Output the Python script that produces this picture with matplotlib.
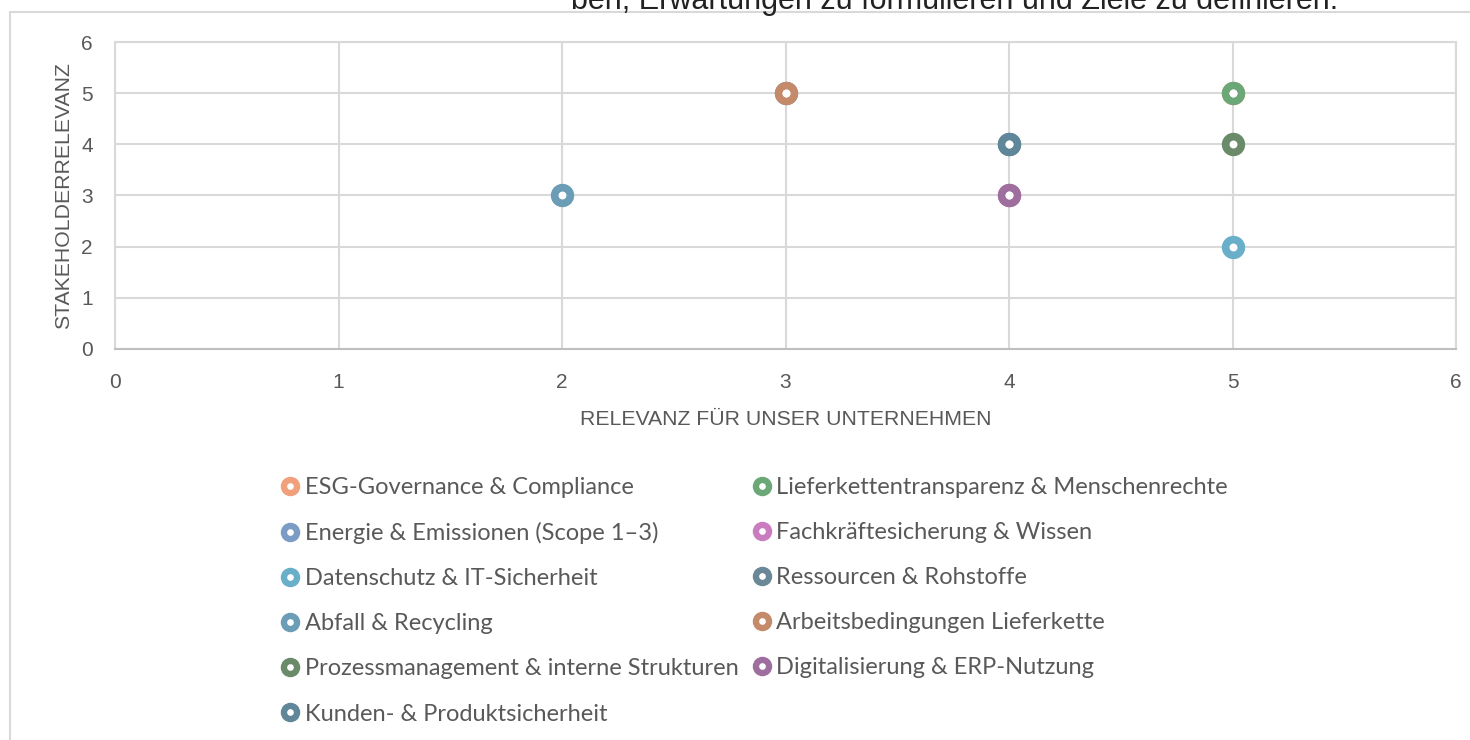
import matplotlib
matplotlib.use("Agg")
import matplotlib.pyplot as plt
from matplotlib.lines import Line2D
from matplotlib.legend_handler import HandlerTuple
from matplotlib.patches import Rectangle

# Themen (Reihenfolge wie in der Excel-Legende, zeilenweise)
themen = [
    "ESG-Governance & Compliance",
    "Lieferkettentransparenz & Menschenrechte",
    "Energie & Emissionen (Scope 1–3)",
    "Fachkräftesicherung & Wissen",
    "Datenschutz & IT-Sicherheit",
    "Ressourcen & Rohstoffe",
    "Abfall & Recycling",
    "Arbeitsbedingungen Lieferkette",
    "Prozessmanagement & interne Strukturen",
    "Digitalisierung & ERP-Nutzung",
    "Kunden- & Produktsicherheit",
]
relevanz_unternehmen = [5, 5, 3, 4, 5, 4, 2, 3, 5, 4, 4]
stakeholder_relevanz = [5, 5, 5, 3, 2, 4, 3, 5, 4, 3, 4]
farben = ["#F0A07A", "#6CA877", "#7B9CC4", "#C97DC0", "#6AAFCA", "#6A8898",
          "#6C9DB6", "#C48A6A", "#6A8A6A", "#9E6F9E", "#5F8799"]

GRID = "#D9D9D9"
TXT = "#595959"

fig = plt.figure(figsize=(14.7, 7.4), dpi=100)

# Rahmen des Diagrammbereichs + abgeschnittener Text darüber
fig.patches.append(Rectangle((10 / 1470, -0.1), 1.2, 1 - 12 / 740 + 0.1,
                             transform=fig.transFigure, fill=False,
                             edgecolor=GRID, linewidth=1.5))
fig.text(955 / 1470, 1 - 9 / 740, "ben, Erwartungen zu formulieren und Ziele zu definieren.",
         ha="center", va="baseline", fontsize=22, color="#222222", family="Liberation Sans")

ax = fig.add_axes([115 / 1470, 1 - 349 / 740, (1456 - 115) / 1470, (349 - 42) / 740])
ax.set_xlim(0, 6)
ax.set_ylim(0, 6)
ax.set_xticks(range(7))
ax.set_yticks(range(7))
ax.grid(True, color=GRID, linewidth=1.5)
ax.set_axisbelow(True)
for s in ax.spines.values():
    s.set_color(GRID)
    s.set_linewidth(1.5)
ax.spines["bottom"].set_color("#BFBFBF")
ax.tick_params(length=0, labelsize=15, labelcolor=TXT)
ax.tick_params(axis="x", pad=17)
ax.tick_params(axis="y", pad=16)
for lab in ax.get_xticklabels() + ax.get_yticklabels():
    lab.set_family("Liberation Sans")

ax.set_xlabel("RELEVANZ FÜR UNSER UNTERNEHMEN", fontsize=15.3, color=TXT,
              family="Liberation Sans", labelpad=13)
ax.set_ylabel("STAKEHOLDERRELEVANZ", fontsize=15.3, color=TXT,
              family="Liberation Sans", labelpad=6)

handles = []
for name, x, y, c in zip(themen, relevanz_unternehmen, stakeholder_relevanz, farben):
    ax.scatter([x], [y], s=250, color=c, edgecolors=c, zorder=3, clip_on=False)
    ax.scatter([x], [y], s=22, color="white", zorder=4, clip_on=False)
    h = (Line2D([], [], marker="o", ls="", markersize=13, markerfacecolor=c, markeredgecolor=c),
         Line2D([], [], marker="o", ls="", markersize=3.8, markerfacecolor="white", markeredgecolor="white"))
    handles.append(h)

# matplotlib füllt spaltenweise -> Reihenfolge umsortieren
order = list(range(0, 11, 2)) + list(range(1, 11, 2))
leg = fig.legend([handles[i] for i in order], [themen[i] for i in order],
                 handler_map={tuple: HandlerTuple(ndivide=1)},
                 ncol=2, loc="upper left", bbox_to_anchor=(281 / 1470, 1 - 477 / 740),
                 frameon=False, handlelength=0.8, handletextpad=0.2,
                 labelspacing=1.02, columnspacing=0.6, borderaxespad=0, borderpad=0,
                 prop={"family": "Lato", "size": 17})
for t in leg.get_texts():
    t.set_color(TXT)

fig.savefig("out.png", dpi=100)
